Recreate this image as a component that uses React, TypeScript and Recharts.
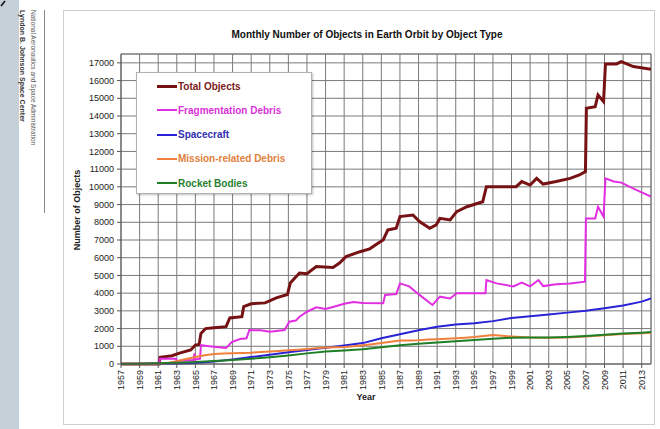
import React from "react";
import {
  LineChart, Line, XAxis, YAxis, CartesianGrid, ReferenceLine,
} from "recharts";

// total catalogued objects
const totalYears = [1957, 1961.1, 1961.2, 1962.5, 1963.2, 1964.5, 1965.0, 1965.4, 1965.6, 1966.1, 1967, 1968.3, 1968.7, 1970.0, 1970.2, 1971, 1972.5, 1973.7, 1974.9, 1975.2, 1976.2, 1977, 1978, 1979.8, 1980.5, 1981.2, 1982.7, 1983.75, 1984.6, 1985.2, 1985.7, 1986.6, 1987, 1988.4, 1989.1, 1990.2, 1990.9, 1991.3, 1992.4, 1993.1, 1994.2, 1995.9, 1996.3, 1998.1, 1999.5, 2000.1, 2001, 2001.7, 2002.4, 2003.8, 2005.3, 2006.3, 2006.95, 2007.05, 2008, 2008.3, 2008.9, 2009.1, 2010.3, 2010.8, 2012.1, 2014];
const totalCounts = [0, 0, 380, 470, 600, 790, 1070, 1100, 1730, 2000, 2050, 2110, 2600, 2670, 3240, 3400, 3450, 3730, 3920, 4570, 5140, 5100, 5500, 5450, 5700, 6060, 6340, 6500, 6800, 7000, 7570, 7660, 8320, 8410, 8040, 7660, 7850, 8220, 8130, 8600, 8880, 9160, 10010, 10010, 10010, 10300, 10100, 10480, 10160, 10300, 10480, 10670, 10860, 14440, 14530, 15190, 14810, 16940, 16940, 17070, 16790, 16640];

const fragYears = [1957, 1961.1, 1961.2, 1962.9, 1963.0, 1964.8, 1964.9, 1965.0, 1965.5, 1965.6, 1966.5, 1967.5, 1968.3, 1968.9, 1969.8, 1970.5, 1970.8, 1972, 1973, 1974.6, 1975.1, 1975.8, 1976.2, 1977, 1978, 1979, 1980, 1981, 1982, 1983, 1985.2, 1985.4, 1986.6, 1987, 1988, 1989.1, 1990.5, 1991.3, 1992.4, 1993.1, 1996.2, 1996.3, 1997.4, 1999.2, 2000.1, 2001, 2001.9, 2002.4, 2003.8, 2005.3, 2006.9, 2007.0, 2008, 2008.3, 2008.9, 2009.1, 2010, 2010.8, 2012.4, 2014];
const fragCounts = [0, 0, 300, 300, 170, 220, 600, 250, 300, 1070, 1000, 950, 900, 1240, 1410, 1450, 1920, 1900, 1820, 1920, 2390, 2450, 2670, 2950, 3200, 3100, 3250, 3400, 3500, 3450, 3430, 3900, 3950, 4550, 4380, 3900, 3330, 3800, 3700, 3990, 4000, 4740, 4550, 4380, 4600, 4380, 4740, 4400, 4500, 4550, 4650, 8220, 8220, 8880, 8310, 10480, 10300, 10240, 9830, 9450];

const craftYears = [1957, 1959, 1961, 1963, 1965, 1967, 1969, 1971, 1973, 1975, 1977, 1979, 1981, 1983, 1985, 1987, 1989, 1991, 1993, 1995, 1997, 1999, 2001, 2003, 2005, 2007, 2009, 2011, 2013, 2014];
const craftCounts = [0, 5, 15, 30, 60, 140, 260, 390, 520, 660, 790, 920, 1050, 1180, 1450, 1680, 1900, 2100, 2230, 2300, 2420, 2600, 2700, 2800, 2900, 3000, 3150, 3300, 3520, 3700];

const missionYears = [1957, 1961, 1962, 1963, 1964, 1965, 1966, 1967, 1968, 1969, 1970, 1971, 1972, 1973, 1974, 1975, 1976, 1977, 1978, 1979, 1980, 1981, 1982, 1983, 1984, 1985, 1986, 1987, 1988, 1989, 1990, 1991, 1992, 1993, 1994, 1995, 1996, 1997, 1998, 1999, 2000, 2001, 2003, 2005, 2007, 2009, 2011, 2013, 2014];
const missionCounts = [0, 10, 60, 150, 280, 400, 500, 560, 590, 610, 620, 640, 680, 710, 740, 770, 810, 850, 890, 930, 940, 960, 1000, 1060, 1120, 1180, 1260, 1330, 1320, 1340, 1380, 1400, 1420, 1450, 1480, 1520, 1580, 1630, 1590, 1550, 1520, 1490, 1480, 1500, 1550, 1620, 1690, 1740, 1770];

const rocketYears = [1957, 1959, 1961, 1963, 1965, 1967, 1969, 1971, 1973, 1975, 1977, 1979, 1981, 1983, 1985, 1987, 1989, 1991, 1993, 1995, 1997, 1999, 2001, 2003, 2005, 2007, 2009, 2011, 2013, 2014];
const rocketCounts = [0, 10, 40, 70, 120, 170, 220, 290, 380, 480, 600, 700, 760, 830, 950, 1060, 1140, 1220, 1290, 1360, 1430, 1480, 1500, 1500, 1530, 1580, 1650, 1720, 1770, 1800];

const yearTicks = [1957, 1959, 1961, 1963, 1965, 1967, 1969, 1971, 1973, 1975, 1977, 1979, 1981, 1983, 1985, 1987, 1989, 1991, 1993, 1995, 1997, 1999, 2001, 2003, 2005, 2007, 2009, 2011, 2013];
const countTicks = [0, 1000, 2000, 3000, 4000, 5000, 6000, 7000, 8000, 9000, 10000, 11000, 12000, 13000, 14000, 15000, 16000, 17000];

const toPts = (xs: number[], ys: number[]) => xs.map((x, i) => ({ year: x, count: ys[i] }));

const series = [
  { name: "Total Objects", data: toPts(totalYears, totalCounts), color: "#761214", text: "#7b2020", width: 3 },
  { name: "Fragmentation Debris", data: toPts(fragYears, fragCounts), color: "#e22ee2", text: "#d932d9", width: 2 },
  { name: "Spacecraft", data: toPts(craftYears, craftCounts), color: "#2a22d6", text: "#3330b0", width: 2 },
  { name: "Mission-related Debris", data: toPts(missionYears, missionCounts), color: "#f0803c", text: "#e0803e", width: 2 },
  { name: "Rocket Bodies", data: toPts(rocketYears, rocketCounts), color: "#1f7f26", text: "#2a8030", width: 2 },
];

const FONT = "'Liberation Sans', Arial, sans-serif";

const YearTick = ({ x, y, payload }: any) => (
  <text transform={`translate(${x},${y}) rotate(-90)`} textAnchor="end" dy="0.35em"
    fontSize={9} fill="#222" fontFamily={FONT}>{payload.value}</text>
);

const LegendBox = () => (
  <div style={{
    position: "absolute", left: 136, top: 72,
    width: 176, height: 122, background: "#fff", border: "1px solid #b0b0b0",
    boxShadow: "1px 1px 2px rgba(0,0,0,0.25)", boxSizing: "border-box",
  }}>
    {series.map((s, i) => (
      <div key={s.name} style={{ position: "absolute", left: 20, top: 6 + i * 24.3, height: 14, display: "flex", alignItems: "center" }}>
        <span style={{ display: "inline-block", width: 20, height: s.width === 3 ? 3 : 2, background: s.color }} />
        <span style={{ fontFamily: FONT, fontWeight: "bold", fontSize: 10, color: s.text, marginLeft: 1 }}>{s.name}</span>
      </div>
    ))}
  </div>
);

export default function App() {
  return (
    <div style={{ position: "absolute", left: 0, top: 0, width: 660, height: 429, background: "#fff" }}>
      <svg width={660} height={429} style={{ position: "absolute", left: 0, top: 0 }}>
        <rect x={0} y={0} width={19} height={429} fill="#c5d0d8" />
        <path d="M1,6 L5,1" stroke="#111" strokeWidth={1.6} />
        <text transform="translate(20,10) rotate(90)" fontSize={7} fontWeight="bold" fill="#333" fontFamily={FONT}>
          Lyndon B. Johnson Space Center
        </text>
        <text transform="translate(31,10) rotate(90)" fontSize={6.5} fill="#555" fontFamily={FONT}>
          National Aeronautics and Space Administration
        </text>
        <line x1={44.5} y1={10} x2={44.5} y2={213} stroke="#888" strokeWidth={1} />
        <rect x={63.5} y={10.5} width={591} height={414} fill="none" stroke="#cfcfcf" />
        <text x={367} y={38} textAnchor="middle" fontSize={10} fontWeight="bold" fill="#111" fontFamily={FONT}>
          Monthly Number of Objects in Earth Orbit by Object Type
        </text>
        <text x={366} y={400} textAnchor="middle" fontSize={9} fontWeight="bold" fill="#222" fontFamily={FONT}>Year</text>
        <text transform="translate(80,210) rotate(-90)" textAnchor="middle" fontSize={9} fontWeight="bold" fill="#222" fontFamily={FONT}>
          Number of Objects
        </text>
      </svg>
      <div style={{ position: "absolute", left: 0, top: 0 }}>
        <LineChart width={660} height={429} margin={{ top: 54, right: 9, left: 76, bottom: 35 }}>
          <CartesianGrid stroke="#7a7a7a" strokeWidth={1} />
          <XAxis dataKey="year" type="number" domain={[1957, 2014]} ticks={yearTicks} allowDataOverflow
            height={30} tick={<YearTick />} tickSize={4} tickMargin={2} interval={0}
            axisLine={{ stroke: "#555" }} tickLine={{ stroke: "#555" }} />
          <YAxis type="number" domain={[0, 17500]} ticks={countTicks} width={45} interval={0}
            tick={{ fontSize: 9, fill: "#222", fontFamily: FONT }} tickSize={4} tickMargin={3}
            axisLine={{ stroke: "#555" }} tickLine={{ stroke: "#555" }} />
          <ReferenceLine y={17500} stroke="#7a7a7a" />
          <ReferenceLine x={2014} stroke="#7a7a7a" />
          {series.map((s) => (
            <Line key={s.name} data={s.data} dataKey="count" name={s.name} type="linear"
              stroke={s.color} strokeWidth={s.width} dot={false} isAnimationActive={false} />
          ))}
        </LineChart>
      </div>
      <LegendBox />
    </div>
  );
}
